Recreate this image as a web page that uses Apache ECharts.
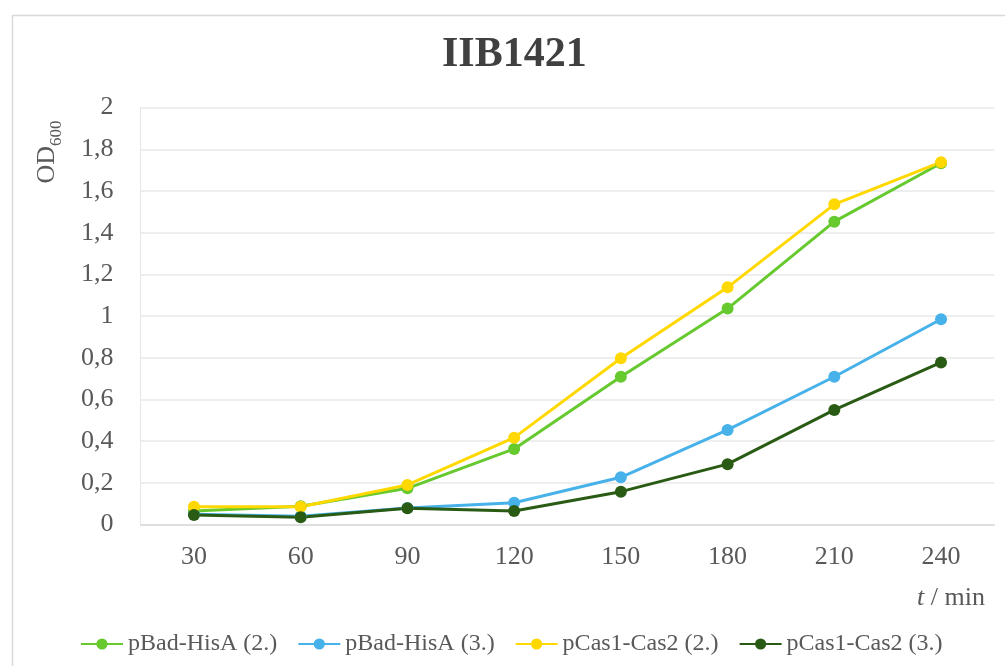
<!DOCTYPE html>
<html>
<head>
<meta charset="utf-8">
<script src="https://cdn.jsdelivr.net/npm/echarts@6/dist/echarts.min.js"></script>
<style>
html,body{margin:0;padding:0;background:#fff;}
#chart{width:1005px;height:666px;}
</style>
</head>
<body>
<div id="chart"></div>
<script>
var categories = ['30','60','90','120','150','180','210','240'];
var pBadHisA2 = [0.065, 0.088, 0.174, 0.363, 0.709, 1.036, 1.453, 1.733];
var pBadHisA3 = [0.05, 0.04, 0.08, 0.105, 0.227, 0.454, 0.709, 0.985];
var pCas1Cas2_2 = [0.086, 0.086, 0.19, 0.417, 0.798, 1.138, 1.536, 1.738];
var pCas1Cas2_3 = [0.046, 0.035, 0.078, 0.065, 0.158, 0.29, 0.55, 0.778];
var seriesNames = ['pBad-HisA (2.)', 'pBad-HisA (3.)', 'pCas1-Cas2 (2.)', 'pCas1-Cas2 (3.)'];
var yTicks = [0, 0.2, 0.4, 0.6, 0.8, 1, 1.2, 1.4, 1.6, 1.8, 2];

var FONT = '"Liberation Serif", "Times New Roman", serif';
var colors = ['#66C92E', '#47B1EA', '#FFD800', '#2A5B14'];

var chart = echarts.init(document.getElementById('chart'));
function mk(name, data, color) {
  return {
    name: name, type: 'line', data: data,
    symbol: 'circle', symbolSize: 12,
    lineStyle: {width: 3, color: color},
    itemStyle: {color: color},
    emphasis: {disabled: true},
    animation: false
  };
}
chart.setOption({
  animation: false,
  backgroundColor: '#fff',
  title: {
    text: 'IIB1421',
    left: 437, top: 29,
    textStyle: {fontFamily: FONT, fontSize: 42, fontWeight: 'bold', color: '#404040'}
  },
  grid: {left: 140.6, right: 10.6, top: 107.6, bottom: 141.4, containLabel: false},
  legend: {
    left: 75, top: 627,
    itemWidth: 42, itemHeight: 14, itemGap: 20,
    textStyle: {fontFamily: FONT, fontSize: 24, color: '#595959'},
    data: seriesNames
  },
  xAxis: {
    type: 'category', data: categories, boundaryGap: true,
    axisLine: {show: true, lineStyle: {color: '#d9d9d9', width: 1.5}},
    axisTick: {show: false},
    axisLabel: {fontFamily: FONT, fontSize: 26, color: '#595959', margin: 20}
  },
  yAxis: {
    type: 'value', min: yTicks[0], max: yTicks[yTicks.length - 1], interval: 0.2,
    axisLine: {show: true, lineStyle: {color: '#e6e6e6', width: 1}},
    axisTick: {show: false},
    splitLine: {lineStyle: {color: '#e8e8e8', width: 1.5}},
    axisLabel: {
      fontFamily: FONT, fontSize: 26, color: '#595959', margin: 27,
      formatter: function (v) { return String(Math.round(v * 10) / 10).replace('.', ','); }
    }
  },
  graphic: [
    {type: 'rect', left: 10, top: 13, silent: true,
     shape: {width: 1010, height: 680},
     style: {fill: 'none', stroke: '#d9d9d9', lineWidth: 1.5}},
    {type: 'text', x: 47, y: 152, rotation: Math.PI / 2, silent: true,
     style: {
       text: '{a|OD}{b|600}', align: 'center', verticalAlign: 'middle',
       rich: {
         a: {fontFamily: FONT, fontSize: 26, fill: '#595959', verticalAlign: 'bottom'},
         b: {fontFamily: FONT, fontSize: 17, fill: '#595959', verticalAlign: 'bottom', padding: [0, 0, -5, 0]}
       }
     }},
    {type: 'text', x: 985, y: 598, silent: true,
     style: {
       text: '{i|t}{n| / min}', align: 'right', verticalAlign: 'middle',
       rich: {
         i: {fontFamily: FONT, fontSize: 26, fontStyle: 'italic', fill: '#595959'},
         n: {fontFamily: FONT, fontSize: 26, fill: '#595959'}
       }
     }}
  ],
  series: [
    mk(seriesNames[0], pBadHisA2, colors[0]),
    mk(seriesNames[1], pBadHisA3, colors[1]),
    mk(seriesNames[2], pCas1Cas2_2, colors[2]),
    mk(seriesNames[3], pCas1Cas2_3, colors[3])
  ]
});
</script>
</body>
</html>
